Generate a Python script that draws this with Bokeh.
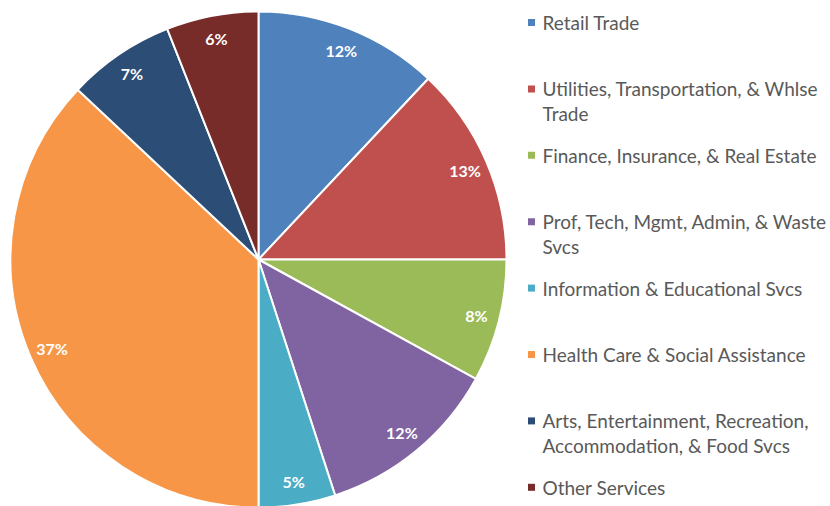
import math
from bokeh.plotting import figure
from bokeh.models import ColumnDataSource
from bokeh.core.properties import value
from bokeh.embed import file_html
from bokeh.resources import INLINE

categories = [
    "Retail Trade",
    "Utilities, Transportation, & Whlse\nTrade",
    "Finance, Insurance, & Real Estate",
    "Prof, Tech, Mgmt, Admin, & Waste\nSvcs",
    "Information & Educational Svcs",
    "Health Care & Social Assistance",
    "Arts, Entertainment, Recreation,\nAccommodation, & Food Svcs",
    "Other Services",
]
shares = [12, 13, 8, 12, 5, 37, 7, 6]
colors = ["#4F81BD", "#C0504D", "#9BBB59", "#8064A2", "#4BACC6", "#F79646", "#2C4D75", "#772C2A"]

W, H = 830, 506


def fx(px):
    return px


def fy(py):
    return H - py


CX, CY, R = fx(258), fy(259), 248
LABEL_R = 225

total = float(sum(shares))
starts, ends, lx, ly, labels = [], [], [], [], []
cum = 0.0
for s in shares:
    a0 = cum / total * 2 * math.pi
    cum += s
    a1 = cum / total * 2 * math.pi
    starts.append(math.pi / 2 - a0)
    ends.append(math.pi / 2 - a1)
    mid = (a0 + a1) / 2
    lx.append(CX + LABEL_R * math.sin(mid))
    ly.append(CY + LABEL_R * math.cos(mid))
    labels.append(f"{s}%")

src = ColumnDataSource(dict(start=starts, end=ends, color=colors,
                            lx=lx, ly=ly, label=labels))

p = figure(width=W, height=H, x_range=(0, W), y_range=(0, H),
           output_backend="svg", toolbar_location=None, min_border=0)
p.axis.visible = False
p.grid.visible = False
p.outline_line_color = None
p.background_fill_color = "white"

p.wedge(x=CX, y=CY, radius=R, start_angle="start", end_angle="end",
        direction="clock", fill_color="color", line_color="white",
        line_width=2, source=src)

p.text(x="lx", y="ly", text="label", source=src, text_color="white",
       text_font=value("Lato"), text_font_style="bold", text_font_size="16px",
       text_align="center", text_baseline="middle")

# legend
LEG_SQ_X = fx(531)
LEG_TX_X = fx(542)
LEG_Y0 = 22
LEG_STEP = 66.4
LINE_STEP = 25
sq_x, sq_y, sq_c = [], [], []
tx, ty, tt = [], [], []
for i, (cat, c) in enumerate(zip(categories, colors)):
    y0 = LEG_Y0 + i * LEG_STEP
    sq_x.append(LEG_SQ_X)
    sq_y.append(fy(y0))
    sq_c.append(c)
    for j, line in enumerate(cat.split("\n")):
        tx.append(LEG_TX_X)
        ty.append(fy(y0 + j * LINE_STEP))
        tt.append(line)

p.rect(x=sq_x, y=sq_y, width=7, height=7, fill_color=sq_c, line_color=None)
p.text(x=tx, y=ty, text=tt, text_color="#595959", text_font=value("Lato"),
       text_font_size="19px", text_align="left", text_baseline="middle")

open("out.html", "w").write(file_html(p, INLINE))
